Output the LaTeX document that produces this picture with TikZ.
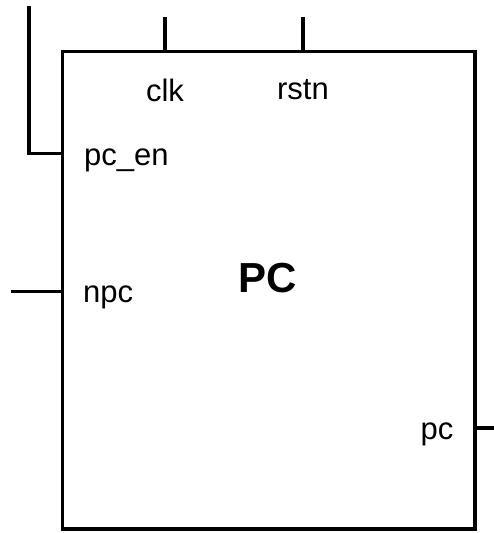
\documentclass[tikz,border=0pt]{standalone}
\usepackage{fontspec}
\setmainfont{Liberation Sans}
\begin{document}
\begin{tikzpicture}[x=1pt,y=-1pt,
  wire/.style={line width=3.6pt},
  lbl/.style={font=\fontsize{31}{34}\selectfont, inner sep=0pt},
  title/.style={font=\fontsize{42}{46}\selectfont\bfseries, inner sep=0pt}]
\useasboundingbox (0,0) rectangle (494,533);
\draw[wire] (62.5,51.5) rectangle (475,529);
\node[lbl] (clk) at (165,90) {clk};
\node[lbl] (rstn) at (303,90) {rstn};
\node[lbl, anchor=west] (pcen) at (84,160) {pc\_en};
\node[lbl, anchor=west] (npc) at (83,297) {npc};
\node[title] (PC) at (268,278) {PC};
\node[lbl] (pc) at (437,434) {pc};
\coordinate (enL) at (29,6);
\coordinate (enC) at (29,153.5);
\coordinate (enR) at (62.5,153.5);
\draw[wire, line join=miter] (enL) -- (enC) -- (enR);
\coordinate (clkT) at (165,17);
\coordinate (clkB) at (165,51.5);
\draw[wire] (clkT) -- (clkB);
\coordinate (rstT) at (303,17);
\coordinate (rstB) at (303,51.5);
\draw[wire] (rstT) -- (rstB);
\coordinate (npcL) at (11,291.5);
\coordinate (npcR) at (62.5,291.5);
\draw[wire] (npcL) -- (npcR);
\coordinate (pcL) at (475,428);
\coordinate (pcR) at (494,428);
\draw[wire] (pcL) -- (pcR);
\end{tikzpicture}
\end{document}
